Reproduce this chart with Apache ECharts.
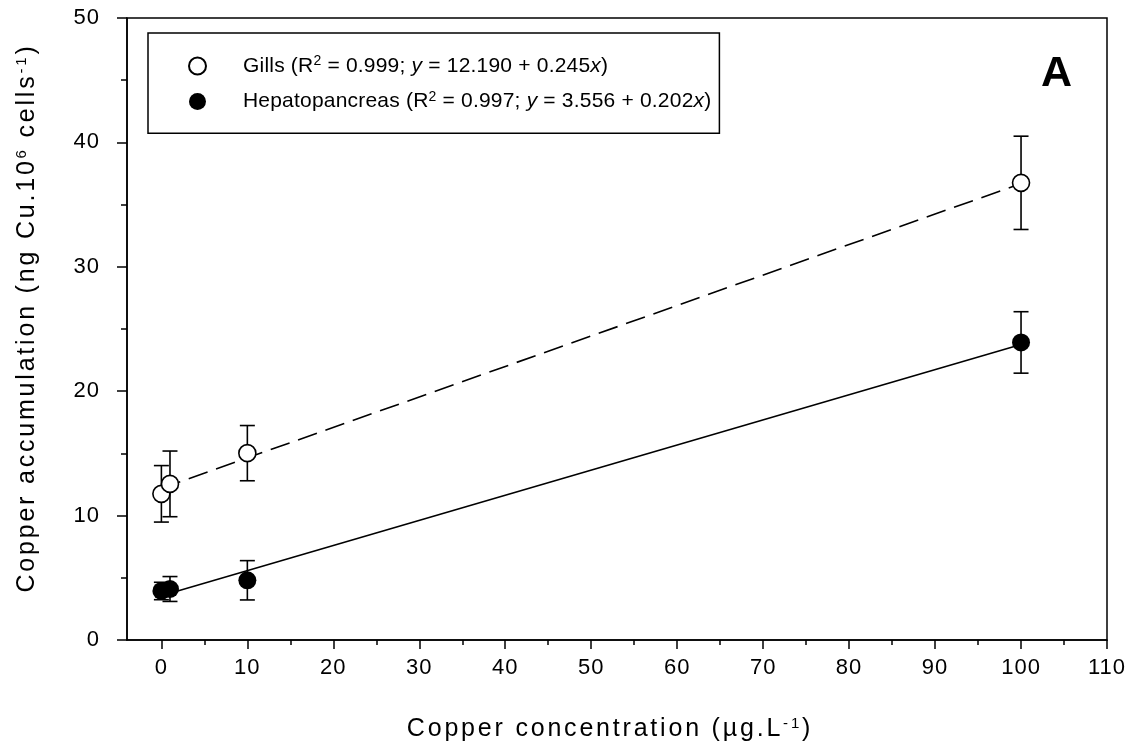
<!DOCTYPE html>
<html>
<head>
<meta charset="utf-8">
<script src="https://cdn.jsdelivr.net/npm/echarts@6/dist/echarts.min.js"></script>
<style>html,body{margin:0;padding:0;background:#fff;}#main{width:1137px;height:755px;}</style>
</head>
<body>
<div id="main"></div>
<script>
// ---- data ----
const concentrations = [0, 1, 10, 100];
const gillsMean = [11.75, 12.55, 15.02, 36.75];
const gillsSD = [2.27, 2.64, 2.22, 3.75];
const hepMean = [3.94, 4.10, 4.80, 23.92];
const hepSD = [0.70, 1.00, 1.58, 2.47];
// regression lines (from the equations in the legend): [x, y] end points
const gillsFit = [[0, 12.19], [100, 36.69]];
const hepFit = [[0, 3.556], [100, 23.756]];
const xMajorTicks = [0, 10, 20, 30, 40, 50, 60, 70, 80, 90, 100, 110];
const xMinorTicks = [5, 15, 25, 35, 45, 55, 65, 75, 85, 95, 105];
const legendGills = ['Gills (R', '2', ' = 0.999; ', 'y', ' = 12.190 + 0.245', 'x', ')'];
const legendHep = ['Hepatopancreas (R', '2', ' = 0.997; ', 'y', ' = 3.556 + 0.202', 'x', ')'];

// ---- letter spacing helper (font family marker lsNN => NN/10 px) ----
(function () {
  const P = CanvasRenderingContext2D.prototype;
  if (!('letterSpacing' in P)) return;
  const ft = P.fillText, st = P.strokeText, mt = P.measureText;
  function sp(ctx) {
    const m = /ls(\d+)/.exec(ctx.font || '');
    ctx.letterSpacing = m ? (parseInt(m[1], 10) / 10) + 'px' : '0px';
  }
  P.fillText = function () { sp(this); return ft.apply(this, arguments); };
  P.strokeText = function () { sp(this); return st.apply(this, arguments); };
  P.measureText = function () { sp(this); return mt.apply(this, arguments); };
})();

const FT = '"Liberation Sans", Arial, ls10';
const FS = '"Liberation Sans", Arial, ls28';
const FL = '"Liberation Sans", Arial, ls02';

const chart = echarts.init(document.getElementById('main'), null, { renderer: 'canvas' });

function toPairs(xs, ys) { return xs.map((x, i) => [x, ys[i]]); }
function toErr(xs, ys, es) { return xs.map((x, i) => [x, ys[i], es[i]]); }

function errRender(params, api) {
  const x = api.value(0), y = api.value(1), e = api.value(2);
  const top = api.coord([x, y + e]);
  const bot = api.coord([x, y - e]);
  const hw = 7.5;
  const st = { stroke: '#000', lineWidth: 1.6 };
  return {
    type: 'group',
    children: [
      { type: 'line', shape: { x1: top[0], y1: top[1], x2: bot[0], y2: bot[1] }, style: st },
      { type: 'line', shape: { x1: top[0] - hw, y1: top[1], x2: top[0] + hw, y2: top[1] }, style: st },
      { type: 'line', shape: { x1: bot[0] - hw, y1: bot[1], x2: bot[0] + hw, y2: bot[1] }, style: st }
    ]
  };
}

function richLegend(parts) {
  const styles = ['n', 's', 'n', 'i', 'n', 'i', 'n'];
  return parts.map((p, i) => '{' + styles[i] + '|' + p + '}').join('');
}

const axisLineStyle = { color: '#000', width: 1.5 };

const option = {
  animation: false,
  backgroundColor: '#fff',
  grid: {
    left: 127, top: 18, right: 30, bottom: 115,
    show: true, borderColor: '#000', borderWidth: 1.5, backgroundColor: 'transparent'
  },
  xAxis: [
    {
      type: 'value', min: -4, max: 110,
      axisLine: { show: true, onZero: false, lineStyle: axisLineStyle },
      axisTick: { show: true, customValues: xMajorTicks, length: 9, lineStyle: axisLineStyle },
      axisLabel: { customValues: xMajorTicks, margin: 16, color: '#000', fontSize: 22, fontFamily: FT },
      splitLine: { show: false }
    },
    {
      type: 'value', min: -4, max: 110, position: 'bottom',
      axisLine: { show: false, onZero: false },
      axisTick: { show: true, customValues: xMinorTicks, length: 5, lineStyle: axisLineStyle },
      axisLabel: { show: false },
      splitLine: { show: false }
    }
  ],
  yAxis: {
    type: 'value', min: 0, max: 50, interval: 10,
    axisLine: { show: true, onZero: false, lineStyle: axisLineStyle },
    axisTick: { show: true, length: 10, lineStyle: axisLineStyle },
    minorTick: { show: true, splitNumber: 2, length: 6, lineStyle: axisLineStyle },
    minorSplitLine: { show: false },
    axisLabel: { margin: 27, color: '#000', fontSize: 22, fontFamily: FT },
    splitLine: { show: false }
  },
  legend: {
    data: ['Gills', 'Hepatopancreas'],
    orient: 'vertical',
    left: 148, top: 33,
    padding: [21, 8, 21, 40],
    itemGap: 13,
    itemWidth: 81, itemHeight: 17,
    icon: 'circle',
    borderColor: '#000', borderWidth: 1.5,
    selectedMode: false,
    formatter: function (name) {
      return name === 'Gills' ? richLegend(legendGills) : richLegend(legendHep);
    },
    textStyle: {
      color: '#000', fontSize: 21, fontFamily: FL,
      rich: {
        n: { fontSize: 21, fontFamily: FL, color: '#000', lineHeight: 24 },
        i: { fontSize: 21, fontFamily: FL, fontStyle: 'italic', color: '#000', lineHeight: 24 },
        s: { fontSize: 14, fontFamily: FL, color: '#000', verticalAlign: 'top', lineHeight: 11 }
      }
    }
  },
  series: [
    {
      name: 'Gills fit', type: 'line', data: gillsFit, showSymbol: false, silent: true, z: 2,
      lineStyle: { color: '#000', width: 1.6, type: [20, 9] }
    },
    {
      name: 'Hepatopancreas fit', type: 'line', data: hepFit, showSymbol: false, silent: true, z: 2,
      lineStyle: { color: '#000', width: 1.6, type: 'solid' }
    },
    {
      name: 'Gills SD', type: 'custom', renderItem: errRender, data: toErr(concentrations, gillsMean, gillsSD),
      encode: { x: 0, y: 1 }, z: 3, silent: true
    },
    {
      name: 'Hepatopancreas SD', type: 'custom', renderItem: errRender, data: toErr(concentrations, hepMean, hepSD),
      encode: { x: 0, y: 1 }, z: 3, silent: true
    },
    {
      name: 'Gills', type: 'scatter', data: toPairs(concentrations, gillsMean), symbol: 'circle', symbolSize: 17,
      itemStyle: { color: '#fff', borderColor: '#000', borderWidth: 1.6, opacity: 1 }, z: 5
    },
    {
      name: 'Hepatopancreas', type: 'scatter', data: toPairs(concentrations, hepMean), symbol: 'circle', symbolSize: 18,
      itemStyle: { color: '#000', borderColor: '#000', borderWidth: 0, opacity: 1 }, z: 5
    }
  ],
  graphic: [
    {
      type: 'text', x: 610, y: 729,
      style: {
        text: '{n|Copper concentration (µg.L}{s|-1}{n|)}',
        align: 'center', verticalAlign: 'middle',
        rich: {
          n: { fontSize: 25, fontFamily: FS, fill: '#000', lineHeight: 28 },
          s: { fontSize: 15, fontFamily: FS, fill: '#000', verticalAlign: 'top', lineHeight: 14 }
        }
      }
    },
    {
      type: 'text', x: 27, y: 318, rotation: Math.PI / 2,
      style: {
        text: '{n|Copper accumulation (ng Cu.10}{s|6}{n| cells}{s|-1}{n|)}',
        align: 'center', verticalAlign: 'middle',
        rich: {
          n: { fontSize: 25, fontFamily: FS, fill: '#000', lineHeight: 28 },
          s: { fontSize: 15, fontFamily: FS, fill: '#000', verticalAlign: 'top', lineHeight: 14 }
        }
      }
    },
    {
      type: 'text', x: 1041, y: 74,
      style: {
        text: 'A', align: 'left', verticalAlign: 'middle',
        font: 'bold 43px "Liberation Sans", Arial', fill: '#000'
      }
    }
  ]
};
chart.setOption(option);
</script>
</body>
</html>
